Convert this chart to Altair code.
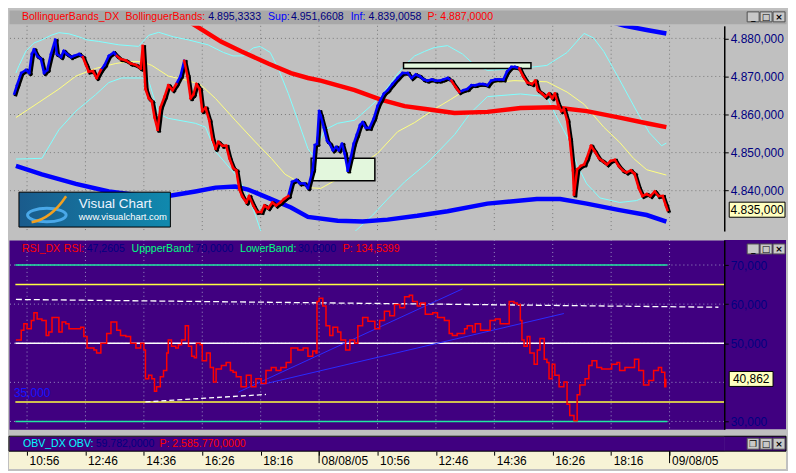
import altair as alt
import pandas as pd

# ---------------- data ----------------
tick_t = [0, 110, 220, 330, 440, 550, 660, 770, 880, 990, 1100, 1210]
tick_labels = ["10:56", "12:46", "14:36", "16:26", "18:16", "08/08/05",
               "10:56", "12:46", "14:36", "16:26", "18:16", "09/08/05"]
date_ticks = [550, 1210]

# price (minutes from first tick, price)
price = [(-24, 4865.5), (-19, 4867.7), (-11, 4870.9), (-2, 4871.7), (4, 4870.9), (9, 4875.9),
         (13, 4877.1), (19, 4875.4), (26, 4874.6), (32, 4870.9), (38, 4871.7), (45, 4875.9),
         (53, 4879.6), (56, 4875.9), (64, 4875.1), (69, 4876.7), (75, 4875.9), (83, 4875.1),
         (88, 4875.4), (98, 4875.9), (105, 4875.1), (111, 4873.0), (116, 4871.3), (124, 4871.4),
         (131, 4869.6), (139, 4871.7), (146, 4873.0), (154, 4875.4), (163, 4876.3), (169, 4875.4),
         (176, 4874.6), (186, 4874.2), (195, 4873.4), (205, 4873.0), (214, 4872.1), (218, 4878.0),
         (223, 4866.7), (229, 4864.3), (235, 4863.4), (240, 4859.3), (246, 4856.0), (251, 4861.8),
         (259, 4864.7), (266, 4867.7), (274, 4866.4), (281, 4868.0), (289, 4870.1), (296, 4874.1),
         (302, 4870.1), (308, 4864.3), (313, 4865.2), (319, 4868.0), (325, 4866.7), (330, 4860.9),
         (336, 4861.8), (343, 4858.5), (349, 4853.5), (355, 4851.0), (360, 4852.8), (368, 4851.8),
         (375, 4851.8), (381, 4848.5), (388, 4846.0), (394, 4845.3), (400, 4840.3), (405, 4838.6),
         (413, 4836.9), (418, 4838.6), (426, 4836.1), (433, 4834.4), (441, 4834.4), (447, 4836.1),
         (454, 4835.4), (462, 4836.9), (469, 4836.1), (477, 4836.9), (484, 4837.8), (492, 4838.6),
         (499, 4842.3), (507, 4842.8), (514, 4841.9), (522, 4841.9), (529, 4840.7),
         (538, 4845.5), (542, 4852.0), (546, 4852.3), (550, 4860.9), (553, 4859.7), (559, 4856.5),
         (565, 4853.1), (570, 4852.3), (576, 4850.6), (582, 4851.5), (587, 4850.6), (593, 4852.3),
         (598, 4849.8), (604, 4845.3), (610, 4849.0), (615, 4852.3), (621, 4854.7), (627, 4857.2),
         (632, 4858.0), (638, 4856.5), (645, 4856.5), (653, 4859.0), (660, 4862.2), (666, 4863.9),
         (672, 4865.5), (679, 4866.4), (688, 4868.0), (698, 4869.6), (707, 4870.9), (717, 4870.9),
         (724, 4869.6), (732, 4870.5), (739, 4870.1), (747, 4869.2), (754, 4868.9), (762, 4869.2),
         (769, 4868.9), (777, 4868.9), (784, 4869.2), (792, 4869.6), (799, 4868.9), (807, 4867.2),
         (814, 4865.9), (822, 4866.4), (829, 4866.7), (837, 4867.7), (844, 4867.7), (852, 4868.0),
         (859, 4868.0), (867, 4867.7), (874, 4868.9), (882, 4869.2), (889, 4869.2), (897, 4869.2),
         (904, 4871.3), (912, 4872.5), (919, 4872.5), (927, 4872.1), (934, 4870.1), (942, 4868.4),
         (951, 4868.0), (957, 4868.9), (962, 4866.4), (970, 4865.5), (976, 4864.7), (983, 4865.5),
         (989, 4864.3), (994, 4865.5), (1000, 4862.7), (1006, 4860.9), (1011, 4861.4), (1017, 4858.5),
         (1022, 4853.5), (1028, 4845.3), (1030, 4839.0), (1036, 4845.6), (1043, 4846.5), (1049, 4846.9),
         (1054, 4848.5), (1062, 4851.8), (1069, 4850.3), (1077, 4848.5), (1084, 4847.8), (1092, 4846.9),
         (1099, 4847.8), (1107, 4848.1), (1114, 4846.5), (1122, 4845.3), (1129, 4844.8), (1137, 4845.3),
         (1144, 4844.4), (1152, 4840.7), (1159, 4838.6), (1167, 4839.1), (1174, 4838.6), (1182, 4839.8),
         (1189, 4838.6), (1197, 4838.6), (1203, 4836.1), (1206, 4834.9)]
trend_start = [-24, 111, 146, 176, 289, 302, 499, 807, 822, 934]
trend_dir = ["up", "down", "up", "down", "up", "down", "up", "down", "up", "down"]

bb_upper = [(-21, 4870.9), (-15, 4872.9), (-2, 4876.7), (13, 4878.8), (28, 4879.6), (45, 4880.8),
            (60, 4881.5), (79, 4881.2), (98, 4880.4), (113, 4879.6), (135, 4879.2), (173, 4878.3),
            (210, 4877.9), (229, 4880.8), (248, 4881.6), (276, 4880.4), (304, 4879.6), (341, 4878.3),
            (370, 4876.3), (388, 4875.4), (407, 4875.4), (426, 4877.5), (439, 4877.9), (458, 4876.3),
            (473, 4872.1), (492, 4865.5), (510, 4858.5), (529, 4851.0), (538, 4849.3), (548, 4852.2),
            (561, 4856.0), (585, 4857.7), (617, 4858.5), (647, 4862.2), (666, 4864.7), (692, 4869.6),
            (711, 4872.9), (730, 4875.4), (749, 4876.6), (767, 4877.6), (792, 4878.1), (820, 4875.9),
            (842, 4873.1), (867, 4871.6), (929, 4872.1), (979, 4872.9), (1017, 4876.3), (1049, 4881.3),
            (1067, 4880.1), (1086, 4876.6), (1116, 4869.1), (1148, 4860.9), (1172, 4855.2),
            (1195, 4851.8), (1204, 4852.5)]
bb_lower = [(-21, 4848.3), (28, 4848.5), (60, 4856.0), (92, 4860.9), (129, 4865.2), (154, 4868.4),
            (178, 4869.6), (216, 4869.6), (229, 4868.9), (248, 4860.2), (266, 4859.0), (317, 4857.7),
            (336, 4856.7), (355, 4850.3), (392, 4844.3), (411, 4840.3), (430, 4833.6), (445, 4827.4),
            (473, 4824.9), (529, 4826.2), (585, 4827.4), (613, 4828.7), (651, 4833.6), (679, 4837.8),
            (711, 4842.3), (754, 4847.3), (805, 4854.7), (835, 4860.4), (867, 4864.7), (929, 4865.4),
            (979, 4864.7), (998, 4859.2), (1017, 4854.2), (1036, 4846.7), (1054, 4841.8),
            (1079, 4838.1), (1116, 4836.9), (1148, 4837.4), (1167, 4838.6), (1204, 4838.1)]
bb_mid = [(-21, 4859.2), (17, 4862.7), (60, 4866.7), (92, 4870.1), (129, 4872.1), (167, 4873.4),
          (191, 4873.9), (216, 4873.9), (235, 4872.9), (266, 4870.1), (304, 4868.9), (328, 4867.7),
          (355, 4864.2), (392, 4858.5), (430, 4852.8), (460, 4848.5), (486, 4844.3), (505, 4842.8),
          (529, 4840.8), (553, 4840.6), (617, 4845.5), (660, 4849.8), (698, 4855.5), (730, 4857.9),
          (767, 4861.4), (797, 4863.9), (829, 4866.7), (867, 4868.2), (917, 4868.9), (979, 4868.6),
          (1017, 4865.9), (1049, 4862.7), (1086, 4856.7), (1116, 4852.7), (1142, 4848.5),
          (1167, 4845.5), (1204, 4844.1)]
ma_red = [(304, 4884.5), (366, 4879.1), (403, 4876.6), (454, 4873.4), (497, 4870.9), (529, 4869.6),
          (553, 4868.9), (617, 4866.4), (666, 4863.9), (711, 4862.2), (754, 4861.4), (805, 4860.4),
          (867, 4860.7), (929, 4861.7), (992, 4861.9), (1054, 4860.9), (1116, 4859.2), (1167, 4857.7),
          (1204, 4856.7)]
ma_blue_low = [(-21, 4846.5), (28, 4844.3), (92, 4841.8), (154, 4839.8), (210, 4838.8), (266, 4838.6),
               (317, 4839.8), (355, 4840.8), (392, 4841.1), (416, 4840.3), (454, 4838.1), (497, 4835.6),
               (529, 4833.1), (585, 4832.1), (632, 4831.9), (679, 4832.4), (735, 4833.4), (792, 4834.6),
               (867, 4836.6), (960, 4837.8), (1004, 4837.8), (1054, 4836.6), (1116, 4834.9),
               (1167, 4833.6), (1204, 4831.9)]
ma_blue_high = [(1082, 4885.0), (1126, 4883.3), (1167, 4882.2), (1204, 4881.3)]

zone_t1 = [535, 709]
zone_t2 = [655, 949]
zone_p1 = [4842.6, 4872.1]
zone_p2 = [4848.5, 4873.6]
price_ticks = [4840, 4850, 4860, 4870, 4880]
last_price = 4835.0

rsi = [(-21, 50.8), (-11, 53.3), (-6, 55.0), (0, 53.7), (8, 55.8), (13, 57.8), (19, 56.2), (28, 55.8),
       (36, 52.0), (41, 52.9), (47, 56.6), (54, 56.6), (60, 52.9), (66, 55.4), (73, 55.0), (79, 53.7),
       (92, 53.7), (101, 54.1), (107, 51.7), (113, 48.8), (120, 48.8), (126, 48.3), (131, 47.5),
       (139, 50.0), (144, 50.0), (150, 52.5), (158, 55.4), (163, 55.4), (169, 53.3), (176, 52.0),
       (186, 51.7), (195, 50.0), (205, 48.8), (214, 50.0), (220, 48.3), (223, 40.9), (229, 41.8),
       (235, 40.9), (240, 37.7), (244, 38.9), (251, 41.4), (257, 43.0), (263, 47.5), (266, 50.8),
       (272, 49.2), (280, 48.8), (285, 49.6), (291, 50.8), (298, 54.5), (304, 49.2), (310, 46.7),
       (315, 46.3), (319, 50.0), (326, 49.6), (330, 45.5), (338, 47.5), (345, 43.8), (351, 40.1),
       (356, 43.4), (366, 44.3), (375, 45.1), (383, 43.0), (388, 42.6), (394, 41.4), (403, 38.9),
       (413, 41.8), (422, 38.9), (431, 40.9), (441, 39.7), (450, 43.0), (460, 43.8), (469, 43.0),
       (478, 43.8), (488, 45.1), (497, 48.8), (510, 48.3), (520, 48.8), (529, 46.7), (538, 48.0),
       (544, 47.5), (546, 60.7), (550, 61.5), (557, 59.5), (563, 54.5), (570, 52.0), (576, 54.1),
       (585, 52.9), (591, 50.8), (600, 48.3), (608, 50.8), (617, 50.0), (623, 54.5), (632, 56.6),
       (642, 55.6), (655, 53.7), (664, 55.8), (673, 58.2), (683, 57.0), (692, 59.9), (702, 59.1),
       (711, 61.9), (720, 62.3), (726, 60.7), (735, 59.5), (741, 60.3), (750, 57.4), (764, 57.8),
       (773, 56.6), (786, 55.8), (795, 52.5), (801, 52.0), (810, 52.5), (824, 53.7), (829, 54.5),
       (839, 52.9), (844, 55.0), (854, 53.3), (863, 53.3), (872, 55.8), (882, 56.2), (891, 55.0),
       (900, 55.0), (908, 60.7), (917, 60.3), (923, 59.9), (929, 55.8), (932, 50.8), (936, 49.2),
       (942, 51.7), (947, 47.5), (955, 44.6), (961, 48.3), (966, 51.2), (974, 45.9), (979, 45.1),
       (983, 40.9), (989, 44.6), (994, 41.8), (1002, 38.9), (1011, 40.1), (1017, 34.4), (1022, 31.5),
       (1030, 30.2), (1036, 36.8), (1041, 39.3), (1051, 40.9), (1058, 44.3), (1064, 45.5), (1073, 43.8),
       (1082, 43.4), (1092, 43.4), (1101, 44.6), (1111, 45.1), (1116, 43.0), (1126, 43.8), (1135, 43.8),
       (1144, 45.9), (1152, 43.0), (1161, 39.3), (1171, 40.5), (1180, 43.0), (1189, 43.8), (1195, 42.6),
       (1201, 38.9), (1203, 40.9)]
rsi_ticks = [30, 40, 50, 60, 70]
rsi_bands = [70, 30]
rsi_zones = [65, 35]
rsi_mid = [50]
rsi_dash_hi = [(-21, 61.2), (1302, 59.2)]
rsi_dash_lo = [(223, 35.0), (450, 36.9)]
rsi_trend1 = [(398, 37.5), (820, 63.9)]
rsi_trend2 = [(441, 39.4), (1011, 57.6)]
last_rsi = 40.862

price_head = ["BollinguerBands_DX", "BollinguerBands:", "4.895,3333", "Sup:", "4.951,6608",
              "Inf:", "4.839,0058", "P: 4.887,0000"]
rsi_head = ["RSI_DX", "RSI:", "47,2605", "UppperBand:", "70,0000", "LowerBand:", "30,0000", "P: 134,5399"]
obv_head = ["OBV_DX OBV:", "59.782,0000", "P: 2.585.770,0000"]
logo_text = ["Visual Chart", "www.visualchart.com"]

# ---------------- layout / style ----------------
FONT = "Liberation Sans"
W = 780
PLOT_W = 718
X_DOMAIN = [-34, 1313]
DATA_START, DATA_END = -22, 1206
H_HEAD, H_PRICE, H_GAP1, H_RSI, H_GAP2, H_OBV, H_TIME = 14, 206, 5, 190, 3, 15, 18
P_DOMAIN = [4829.4, 4883.3]
R_DOMAIN = [28.0, 76.4]
NAVY, RED, BLUE, GREEN, CYAN = "#000080", "#ff0000", "#0000ff", "#00ff80", "#00ffff"
PURPLE = "#400080"
BEIGE = "#f7f3d6"
price_head_x = [13, 117, 200, 260, 283, 343, 361, 420]
price_head_c = [RED, RED, NAVY, BLUE, NAVY, BLUE, NAVY, RED]
rsi_head_x = [13, 55, 78, 123, 187, 232, 290, 335]
rsi_head_c = [RED, RED, NAVY, GREEN, NAVY, GREEN, NAVY, RED]
obv_head_x = [14, 87, 151]
obv_head_c = [CYAN, NAVY, RED]

XS = alt.Scale(domain=X_DOMAIN, nice=False, zero=False)
PS = alt.Scale(domain=P_DOMAIN, nice=False, zero=False)
RS = alt.Scale(domain=R_DOMAIN, nice=False, zero=False)
ONE = pd.DataFrame({"k": [0]})


def X(f="t"):
    return alt.X(f + ":Q", scale=XS, axis=None)


def PY(f="v"):
    return alt.Y(f + ":Q", scale=PS, axis=None)


def RY(f="v"):
    return alt.Y(f + ":Q", scale=RS, axis=None)


def pdf(pairs):
    return pd.DataFrame(pairs, columns=["t", "v"])


def euro(v, d):
    s = f"{v:,.{d}f}"
    return s.replace(",", "#").replace(".", ",").replace("#", ".")


def box(x0, x1, y0, y1, fill, stroke="transparent", sw=1):
    return alt.Chart(ONE).mark_rect(fill=fill, stroke=stroke, strokeWidth=sw).encode(
        x=alt.value(x0), x2=alt.value(x1), y=alt.value(y0), y2=alt.value(y1))


def texts(strings, xs, colors, y, size=10.6):
    out = []
    for s, x, c in zip(strings, xs, colors):
        out.append(alt.Chart(pd.DataFrame({"txt": [s]})).mark_text(
            font=FONT, fontSize=size, align="left", baseline="middle", color=c
        ).encode(x=alt.value(x), y=alt.value(y), text="txt:N"))
    return out


def buttons(y0, y1, glyphs=("_", "□", "×")):
    out = []
    for (a, b), g in zip([(741, 753), (754, 766), (767, 779)], glyphs):
        out.append(box(a, b, y0, y1, "#c8c8c8", "#505050"))
        out.append(alt.Chart(pd.DataFrame({"g": [g]})).mark_text(
            font="DejaVu Sans", fontSize=9, fontWeight="bold", color="#000000", baseline="middle"
        ).encode(x=alt.value((a + b) / 2), y=alt.value((y0 + y1) / 2), text="g:N"))
    return out


def hlines(values, t_end, color, width=1.5):
    d = pd.DataFrame({"v": values})
    d["t0"] = DATA_START
    d["t1"] = t_end
    return alt.Chart(d).mark_rule(color=color, strokeWidth=width).encode(x=X("t0"), x2="t1:Q", y=RY())


def right_axis(values, expr):
    return alt.Axis(orient="right", values=values, title=None, grid=False, zindex=1, labelExpr=expr,
                    labelColor=NAVY, labelFont=FONT, labelFontSize=12, labelPadding=2, labelFlush=False,
                    labelOverlap=False, tickColor="#000000", tickSize=4, domainColor="#000000",
                    domainWidth=1.5)


# ---------------- price header ----------------
head1 = alt.layer(*texts(price_head, price_head_x, price_head_c, 7), *buttons(2, 12)).properties(
    width=W, height=H_HEAD, view=alt.ViewBackground(fill="#a8a8a8", stroke="transparent"))

# ---------------- price panel ----------------
price_axis = right_axis(
    price_ticks, "replace(replace(replace(format(datum.value, ',.3f'), ',', '#'), '.', ','), '#', '.')")
p_hgrid = alt.Chart(pd.DataFrame({"v": price_ticks})).mark_rule(color="#7a7a7a", strokeDash=[1, 3]).encode(
    y=alt.Y("v:Q", scale=PS, axis=price_axis))
p_vgrid = alt.Chart(pd.DataFrame({"t": tick_t})).mark_rule(color="#7a7a7a", strokeDash=[1, 3]).encode(x=X())


def pline(pairs, color, w):
    return alt.Chart(pdf(pairs)).mark_line(color=color, strokeWidth=w, clip=True).encode(x=X(), y=PY())


zones = pd.DataFrame({"t1": zone_t1, "t2": zone_t2, "v1": zone_p1, "v2": zone_p2})
p_zones = alt.Chart(zones).mark_rect(fill="#e3f7dd", stroke="#000000", strokeWidth=1.5).encode(
    x=X("t1"), x2="t2:Q", y=PY("v1"), y2="v2:Q")

pt = [a for a, _ in price]
pv = [b for _, b in price]
trend = [trend_dir[max(i for i, s in enumerate(trend_start) if s <= t)] for t in pt]
seg = pd.DataFrame({"t": pt[:-1], "v": pv[:-1], "t2": pt[1:], "v2": pv[1:], "trend": trend[1:]})
p_shadow = alt.Chart(seg).mark_rule(color="#000000", strokeWidth=3.5, xOffset=1.5, x2Offset=1.5,
                                    yOffset=1, y2Offset=1, strokeCap="square").encode(
    x=X(), x2="t2:Q", y=PY(), y2="v2:Q")
p_up = alt.Chart(seg[seg.trend == "up"]).mark_rule(color=BLUE, strokeWidth=2.5, strokeCap="square").encode(
    x=X(), x2="t2:Q", y=PY(), y2="v2:Q")
p_down = alt.Chart(seg[seg.trend == "down"]).mark_rule(color=RED, strokeWidth=2.5, strokeCap="square").encode(
    x=X(), x2="t2:Q", y=PY(), y2="v2:Q")

lp = pd.DataFrame({"v": [last_price], "label": [euro(last_price, 3)]})
p_box = alt.Chart(lp).mark_point(shape="M-1,-0.27L1,-0.27L1,0.27L-1,0.27Z", size=3136, filled=True,
                                 fill="#ffffc0", stroke="#000000", strokeWidth=1, opacity=1).encode(
    x=alt.value(751), y=PY())
p_boxtxt = alt.Chart(lp).mark_text(font=FONT, fontSize=12, color="#000000").encode(
    x=alt.value(751), y=PY(), text="label:N")

grad = alt.Gradient(gradient="linear",
                    stops=[alt.GradientStop(color="#1a5b8c", offset=0),
                           alt.GradientStop(color="#1089ae", offset=1)],
                    x1=0, x2=1, y1=0, y2=0)
logo_rect = alt.Chart(ONE).mark_rect(fill=grad, stroke="#000000", strokeWidth=1).encode(
    x=alt.value(10), x2=alt.value(162), y=alt.value(167), y2=alt.value(202))
logo_t1 = alt.Chart(pd.DataFrame({"s": [logo_text[0]]})).mark_text(
    font=FONT, fontSize=13.5, color="#eef4ff", align="left", baseline="middle").encode(
    x=alt.value(70), y=alt.value(179), text="s:N")
logo_t2 = alt.Chart(pd.DataFrame({"s": [logo_text[1]]})).mark_text(
    font=FONT, fontSize=9.5, color="#ffffff", align="left", baseline="middle").encode(
    x=alt.value(70), y=alt.value(192), text="s:N")
logo_ell = alt.Chart(ONE).mark_point(shape="M-1,0A1,0.35,0,1,1,1,0A1,0.35,0,1,1,-1,0Z", size=1500,
                                     filled=False, stroke="#4aa8e8", strokeWidth=3, opacity=1).encode(
    x=alt.value(38), y=alt.value(190))
logo_sw = alt.Chart(ONE).mark_point(shape="M-1,0.7C-0.3,0.6,0.4,0.1,1,-0.8", size=1200,
                                    filled=False, stroke="#f0a020", strokeWidth=2.5, opacity=1).encode(
    x=alt.value(40), y=alt.value(185))

price_panel = alt.layer(
    p_hgrid, p_vgrid,
    pline(bb_upper, "#80ffff", 1), pline(bb_lower, "#80ffff", 1), pline(bb_mid, "#ffff80", 1),
    pline(ma_red, RED, 4.5), pline(ma_blue_low, BLUE, 4.5), pline(ma_blue_high, BLUE, 4.5),
    p_zones, p_shadow, p_up, p_down, p_box, p_boxtxt,
    logo_rect, logo_ell, logo_sw, logo_t1, logo_t2,
).resolve_axis(x="independent", y="independent").properties(
    width=PLOT_W, height=H_PRICE, view=alt.ViewBackground(fill="#c0c0c0", stroke="transparent"))

# ---------------- RSI panel ----------------
# the current-value box hides the tick label it sits on (as in the original)
rsi_label_ticks = [v for v in rsi_ticks if abs(v - last_rsi) > 3]
rsi_axis = right_axis(rsi_label_ticks, "replace(format(datum.value, '.3f'), '.', ',')")
r_hgrid = alt.Chart(pd.DataFrame({"v": rsi_ticks})).mark_rule(color="#9a92c2", strokeDash=[1, 3]).encode(
    y=alt.Y("v:Q", scale=RS, axis=rsi_axis))
r_vgrid = alt.Chart(pd.DataFrame({"t": tick_t})).mark_rule(color="#9a92c2", strokeDash=[1, 3]).encode(x=X())
r_dash1 = alt.Chart(pdf(rsi_dash_hi)).mark_line(color="#ffffff", strokeDash=[6, 3], strokeWidth=1.3).encode(x=X(), y=RY())
r_dash2 = alt.Chart(pdf(rsi_dash_lo)).mark_line(color="#ffffff", strokeDash=[5, 3], strokeWidth=1.3).encode(x=X(), y=RY())
r_tr1 = alt.Chart(pdf(rsi_trend1)).mark_line(color="#2a2aff", strokeWidth=1).encode(x=X(), y=RY())
r_tr2 = alt.Chart(pdf(rsi_trend2)).mark_line(color="#2a2aff", strokeWidth=1).encode(x=X(), y=RY())
r_line = alt.Chart(pdf(rsi)).mark_line(color=RED, strokeWidth=1.5, interpolate="step-after").encode(x=X(), y=RY())
r_lbl = alt.Chart(pd.DataFrame({"v": [35], "s": [euro(35, 3)]})).mark_text(
    font=FONT, fontSize=12, color="#1414ff", align="left", baseline="bottom", dy=-2).encode(
    x=alt.value(5), y=RY(), text="s:N")
lr = pd.DataFrame({"v": [last_rsi], "label": [euro(last_rsi, 3)]})
r_box = alt.Chart(lr).mark_point(shape="M-1,-0.34L1,-0.34L1,0.34L-1,0.34Z", size=1936, filled=True,
                                 fill="#ffffc0", stroke="#000000", strokeWidth=1, opacity=1).encode(
    x=alt.value(745), y=RY())
r_boxtxt = alt.Chart(lr).mark_text(font=FONT, fontSize=12, color="#000000").encode(
    x=alt.value(745), y=RY(), text="label:N")

rsi_panel = alt.layer(
    box(PLOT_W, W, 0, H_RSI, PURPLE),
    r_hgrid, r_vgrid,
    hlines(rsi_bands, DATA_END, "#20e8a0"), hlines(rsi_zones, X_DOMAIN[1], "#ffff40"),
    hlines(rsi_mid, X_DOMAIN[1], "#ffffff"),
    r_dash1, r_dash2, r_tr1, r_tr2, r_line, r_lbl, r_box, r_boxtxt,
    *texts(rsi_head, rsi_head_x, rsi_head_c, 9), *buttons(4, 14),
).resolve_axis(x="independent", y="independent").properties(
    width=PLOT_W, height=H_RSI, view=alt.ViewBackground(fill=PURPLE, stroke="transparent"))

# ---------------- OBV header + time axis ----------------
time_axis = alt.Axis(
    orient="bottom", values=tick_t, title=None, grid=False, domain=False, zindex=1,
    labelExpr=f"{tick_labels}[indexof({tick_t}, datum.value)]".replace("'", '"'),
    tickColor="#000000", tickSize=4, labelColor="#000000", labelFont=FONT, labelFontSize=12,
    labelAlign="left", labelOffset=2, labelPadding=0, labelFlush=False, labelOverlap=False, labelBound=False)
time_base = alt.Chart(pd.DataFrame({"t": tick_t})).mark_rule(opacity=0).encode(
    x=alt.X("t:Q", scale=XS, axis=time_axis))
time_dates = alt.Chart(pd.DataFrame({"t": date_ticks})).mark_rule(color="#000000").encode(
    x=X(), y=alt.value(H_OBV), y2=alt.value(H_OBV + 12))
obv_panel = alt.layer(
    box(PLOT_W, W, 0, H_OBV, PURPLE),
    box(0, W, H_OBV, H_OBV + H_TIME, BEIGE),
    box(0, W, 0, H_OBV, "transparent", "#000000", 1),
    time_base, time_dates,
    *texts(obv_head, obv_head_x, obv_head_c, 7.5), *buttons(2, 13, ("❐", "□", "×")),
).resolve_axis(x="independent", y="independent").properties(
    width=PLOT_W, height=H_OBV, view=alt.ViewBackground(fill=PURPLE, stroke="transparent"))


def spacer(h):
    return alt.Chart(ONE).mark_rect(opacity=0).encode(
        x=alt.value(0), x2=alt.value(1), y=alt.value(0), y2=alt.value(1)).properties(
        width=W, height=h, view=alt.ViewBackground(fill="#c0c0c0", stroke="transparent"))


chart = alt.vconcat(head1, price_panel, spacer(H_GAP1), rsi_panel, spacer(H_GAP2), obv_panel,
                    spacing=0).properties(padding=0, background="#c0c0c0").configure_view(stroke="transparent")

chart.save("out.html", embed_options={"renderer": "svg", "actions": False})
